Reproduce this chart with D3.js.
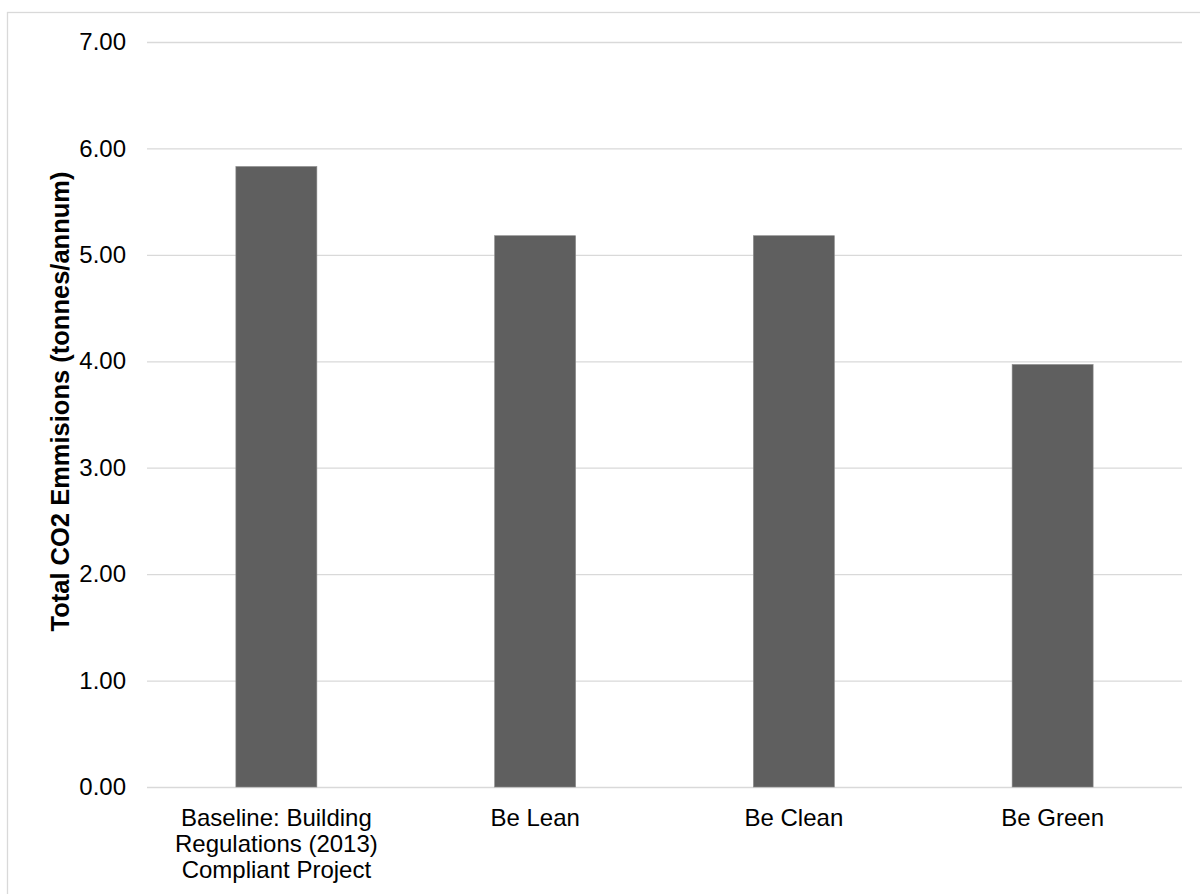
<!DOCTYPE html>
<html>
<head>
<meta charset="utf-8">
<script src="https://cdn.jsdelivr.net/npm/d3@7"></script>
<style>
  html, body { margin: 0; padding: 0; background: #ffffff; }
  svg { display: block; }
  text { font-family: "Liberation Sans", Arial, sans-serif; fill: #000; }
</style>
</head>
<body>
<svg id="chart" width="1200" height="894"></svg>
<script>
const categories = [
  ["Baseline: Building", "Regulations (2013)", "Compliant Project"],
  ["Be Lean"],
  ["Be Clean"],
  ["Be Green"]
];
const categoryKeys = ["Baseline", "Be Lean", "Be Clean", "Be Green"];
const values = [5.83, 5.18, 5.18, 3.97];
const yTicks = [0, 1, 2, 3, 4, 5, 6, 7];
const yTitle = "Total CO2 Emmisions (tonnes/annum)";

const svg = d3.select("#chart");
const plotL = 147, plotR = 1182, plotT = 42, plotB = 787;

// outer frame (cropped on right and bottom)
svg.append("rect")
  .attr("x", 7.5).attr("y", 12.5)
  .attr("width", 1300).attr("height", 1000)
  .attr("fill", "none").attr("stroke", "#d9d9d9").attr("stroke-width", 1.3);

const x = d3.scaleBand().domain(categoryKeys).range([plotL, plotR]).padding(0);
const y = d3.scaleLinear().domain([0, 7]).range([plotB, plotT]);

// gridlines
const yAxis = d3.axisLeft(y).tickValues(yTicks).tickFormat(d3.format(".2f"))
  .tickSize(-(plotR - plotL)).tickPadding(21);
const gAxis = svg.append("g").attr("transform", `translate(${plotL},0)`).call(yAxis);
gAxis.select(".domain").remove();
gAxis.selectAll(".tick line").attr("stroke", "#d9d9d9").attr("stroke-width", 1.3);
gAxis.selectAll(".tick text")
  .style("font-family", '"Liberation Sans", Arial, sans-serif')
  .style("font-size", "24px").attr("fill", "#000");

// bars
const barW = x.bandwidth() * 0.313;
svg.append("g").selectAll("rect")
  .data(values)
  .join("rect")
  .attr("x", (d, i) => x(categoryKeys[i]) + (x.bandwidth() - barW) / 2)
  .attr("y", d => y(d))
  .attr("width", barW)
  .attr("height", d => y(0) - y(d))
  .attr("fill", "#5f5f5f")
  .attr("stroke", "#8a8a8a").attr("stroke-width", 0.6);

// category labels
const lbl = svg.append("g").selectAll("text")
  .data(categories)
  .join("text")
  .attr("text-anchor", "middle")
  .style("font-size", "24px")
  .attr("transform", (d, i) => `translate(${x(categoryKeys[i]) + x.bandwidth() / 2},${plotB + 39})`);
lbl.selectAll("tspan")
  .data(d => d)
  .join("tspan")
  .attr("x", 0)
  .attr("y", (d, j) => j * 26.2)
  .text(d => d);

// y title
svg.append("text")
  .attr("transform", `translate(68.5,401.5) rotate(-90)`)
  .attr("text-anchor", "middle")
  .style("font-size", "25.5px")
  .style("font-weight", "bold")
  .text(yTitle);
</script>
</body>
</html>
